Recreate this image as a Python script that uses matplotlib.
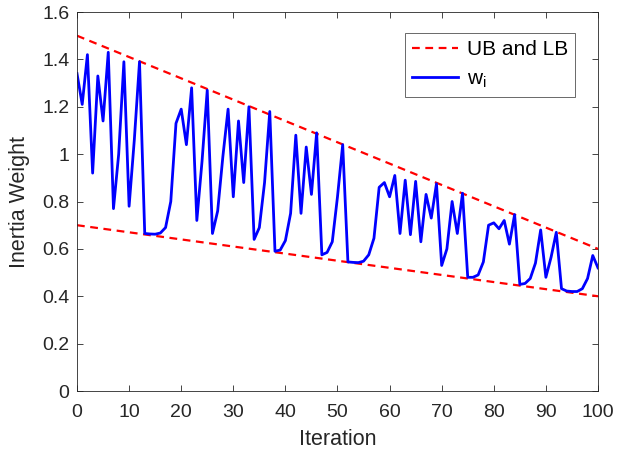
import matplotlib
matplotlib.use("Agg")
import matplotlib.pyplot as plt
import numpy as np
from matplotlib import rcParams

rcParams["font.family"] = ["Liberation Sans", "DejaVu Sans"]
rcParams["mathtext.default"] = "regular"

# inertia weight per iteration
iterations = np.arange(0, 101)
w_i = [
    1.34, 1.21, 1.42, 0.92, 1.33, 1.14, 1.43, 0.77, 1.00, 1.39,
    0.78, 1.06, 1.39, 0.665, 0.663, 0.662, 0.667, 0.69, 0.80, 1.13,
    1.19, 1.04, 1.28, 0.72, 0.97, 1.27, 0.665, 0.76, 0.99, 1.19,
    0.82, 1.14, 0.88, 1.20, 0.64, 0.69, 0.88, 1.18, 0.59, 0.595,
    0.635, 0.75, 1.08, 0.75, 1.03, 0.83, 1.09, 0.575, 0.585, 0.63,
    0.82, 1.04, 0.545, 0.543, 0.542, 0.548, 0.575, 0.645, 0.86, 0.88,
    0.82, 0.91, 0.665, 0.89, 0.66, 0.885, 0.63, 0.83, 0.73, 0.875,
    0.53, 0.60, 0.80, 0.665, 0.835, 0.48, 0.48, 0.49, 0.545, 0.70,
    0.71, 0.685, 0.72, 0.62, 0.745, 0.45, 0.454, 0.475, 0.54, 0.68,
    0.48, 0.565, 0.67, 0.432, 0.422, 0.42, 0.42, 0.432, 0.475, 0.572,
    0.52,
]

# upper and lower bounds (linear in iteration)
bound_iter = [0, 100]
ub = [1.5, 0.6]
lb = [0.7, 0.4]

x_ticks = list(range(0, 101, 10))
y_ticks = [0, 0.2, 0.4, 0.6, 0.8, 1.0, 1.2, 1.4, 1.6]
y_tick_labels = ["0", "0.2", "0.4", "0.6", "0.8", "1", "1.2", "1.4", "1.6"]

grey = (0.15, 0.15, 0.15)

fig = plt.figure(figsize=(6.18, 4.57), dpi=100)
ax = fig.add_axes([0.1246, 0.1444, 0.8430, 0.8293])

ax.plot(bound_iter, ub, color="red", linewidth=1.6, dashes=(3.5, 2.5), label="UB and LB")
ax.plot(bound_iter, lb, color="red", linewidth=1.6, dashes=(3.5, 2.5))
ax.plot(iterations, w_i, color="blue", linewidth=2, label="w$_{i}$")

ax.set_xlim(0, 100)
ax.set_ylim(0, 1.6)
ax.set_xticks(x_ticks)
ax.set_yticks(y_ticks)
ax.set_yticklabels(y_tick_labels)
ax.tick_params(direction="in", top=True, right=True, length=4, width=0.6,
               colors=grey, labelsize=14, labelcolor=grey)
ax.tick_params(axis="x", pad=9)
ax.tick_params(axis="y", pad=5.5)
for s in ax.spines.values():
    s.set_color(grey)
    s.set_linewidth(0.6)

ax.set_xlabel("Iteration", fontsize=15.5, color=grey, labelpad=6)
ax.set_ylabel("Inertia Weight", fontsize=15.5, color=grey, labelpad=9)

leg = ax.legend(loc="upper right", fontsize=15, frameon=True, fancybox=False,
                handlelength=2.2, handletextpad=0.4, borderpad=0.35,
                borderaxespad=0, bbox_to_anchor=(0.956, 0.945))
leg.get_frame().set_edgecolor(grey)
leg.get_frame().set_linewidth(0.6)

fig.savefig("out.png", dpi=100)
